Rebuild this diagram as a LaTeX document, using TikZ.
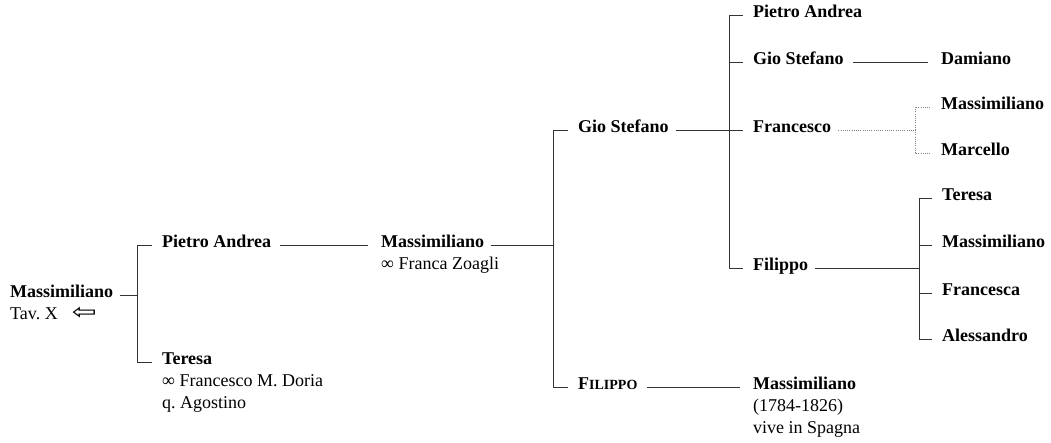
\documentclass[tikz,border=0pt]{standalone}
\usepackage{graphicx}
\usepackage{fontspec}
\setmainfont{Liberation Serif}
\newfontfamily\symfont{DejaVu Sans}
\frenchspacing
\usetikzlibrary{positioning}
\tikzset{
NAME/.style={anchor=mid west, inner sep=0pt, font=\fontsize{18}{22}\selectfont\bfseries},
NOTE/.style={anchor=base west, inner sep=0pt, font=\fontsize{18}{22}\selectfont},
LINE/.style={draw=black!80, line width=0.7pt},
FROM/.style={LINE, shorten <=7pt},
TO/.style={LINE, shorten >=10pt},
PAIR/.style={LINE, shorten <=9pt, shorten >=13pt},
DOTS/.style={draw=black!50, line width=0.6pt, dash pattern=on 1pt off 1.2pt},
}
\newcommand{\smallcap}[2]{#1{\fontsize{14}{16}\selectfont #2}}

\begin{document}
\begin{tikzpicture}
[x=1pt, y=-1pt]
	\useasboundingbox (0,0) rectangle (1051,443);
	% names
	\node[NAME] (m1) at (10,295) {Massimiliano};
	\node[below=22pt of m1.base west, NOTE] (m1tav) {Tav. X\hspace{14pt}\scalebox{1.35}[1]{\symfont\fontsize{22}{22}\selectfont ⇦}};
	\node[NAME] (pa1) at (162,245) {Pietro Andrea};
	\node[NAME] (te1) at (162,362) {Teresa};
	\node[below=22pt of te1.base west, NOTE] (te1sp) {∞ Francesco M. Doria};
	\node[below=22pt of te1sp.base west, NOTE] (te1pa) {q. Agostino};
	\node[NAME] (m2) at (381,245) {Massimiliano};
	\node[below=22pt of m2.base west, NOTE] (m2sp) {∞ Franca Zoagli};
	\node[NAME] (gs1) at (578,130) {Gio Stefano};
	\node[NAME] (fi1) at (578,387) {\smallcap{F}{ILIPPO}};
	\node[NAME] (m3) at (753,387) {Massimiliano};
	\node[below=22pt of m3.base west, NOTE] (m3dt) {(1784-1826)};
	\node[below=22pt of m3dt.base west, NOTE] (m3sp) {vive in Spagna};
	\node[NAME] (pa2) at (753,15) {Pietro Andrea};
	\node[NAME] (gs2) at (753,62) {Gio Stefano};
	\node[NAME] (fr1) at (753,130) {Francesco};
	\node[NAME] (fi2) at (753,268) {Filippo};
	\node[NAME] (da1) at (941,62) {Damiano};
	\node[NAME] (ms1) at (941,107) {Massimiliano};
	\node[NAME] (mc1) at (941,153) {Marcello};
	\node[NAME] (te2) at (942,198) {Teresa};
	\node[NAME] (ms2) at (942,245) {Massimiliano};
	\node[NAME] (fr2) at (942,293) {Francesca};
	\node[NAME] (al1) at (942,339) {Alessandro};
	% branch points
	\coordinate (b1) at (137,295);
	\coordinate (b2) at (553,245);
	\coordinate (b3) at (729,130);
	\coordinate (b4) at (915,130);
	\coordinate (b5) at (919,268);
	% lines
	\draw[FROM] (m1.mid east) -- (b1);
	\foreach \c in {pa1,te1} \draw[TO] (b1) |- (\c.mid west);
	\draw[PAIR] (pa1.mid east) -- (m2.mid west);
	\draw[FROM] (m2.mid east) -- (b2);
	\foreach \c in {gs1,fi1} \draw[TO] (b2) |- (\c.mid west);
	\draw[PAIR] (fi1.mid east) -- (m3.mid west);
	\draw[FROM] (gs1.mid east) -- (b3);
	\foreach \c in {pa2,gs2,fr1,fi2} \draw[TO] (b3) |- (\c.mid west);
	\draw[PAIR] (gs2.mid east) -- (da1.mid west);
	\draw[DOTS, shorten <=7pt] (fr1.mid east) -- (b4);
	\foreach \c in {ms1,mc1} \draw[DOTS, shorten >=10pt] (b4) |- (\c.mid west);
	\draw[FROM] (fi2.mid east) -- (b5);
	\foreach \c in {te2,ms2,fr2,al1} \draw[TO] (b5) |- (\c.mid west);
\end{tikzpicture}
\end{document}
